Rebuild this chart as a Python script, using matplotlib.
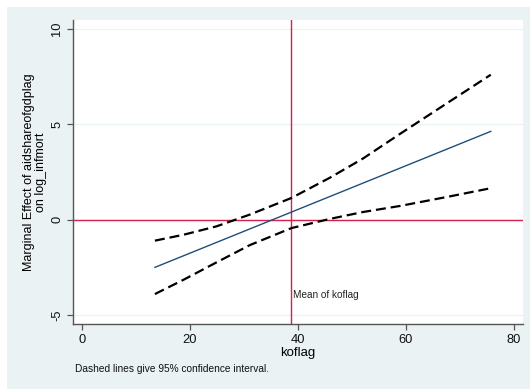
import matplotlib
matplotlib.use("Agg")
import matplotlib.pyplot as plt
from matplotlib.patches import Rectangle

plt.rcParams['font.family'] = ['Liberation Sans', 'DejaVu Sans']

# marginal effect (straight line)
me_x = [13.5, 75.7]
me_y = [-2.5, 4.63]

# confidence bands, read at several points
ci_x = [13.5, 18.8, 24.9, 31.1, 38.8, 45.9, 52.0, 58.9, 68.1, 75.7]
ci_upper = [-1.1, -0.79, -0.35, 0.27, 1.14, 2.2, 3.2, 4.5, 6.2, 7.6]
ci_lower = [-3.9, -3.15, -2.24, -1.33, -0.44, 0.04, 0.4, 0.72, 1.22, 1.65]

koflag_mean = 38.7
xticks = [0, 20, 40, 60, 80]
yticks = [-5, 0, 5, 10]

bg = '#EAF2F3'
red = '#D4204C'
navy = '#1F4E79'

fig = plt.figure(figsize=(5.3, 3.89), dpi=100, facecolor='white')
#graph region background, drawn below the axes
fig.add_artist(Rectangle((7 / 530, 0), 1 - 7 / 530, 1 - 7 / 389,
                         transform=fig.transFigure, facecolor=bg,
                         edgecolor='none', zorder=-5))

ax = fig.add_axes([73 / 530, 65 / 389, 450 / 530, 304 / 389])
ax.set_facecolor('white')

#grid and reference lines
for yt in yticks:
    ax.axhline(yt, color=bg, lw=0.9, zorder=1)
ax.axhline(0, color=red, lw=1.0, zorder=2)
ax.axvline(koflag_mean, color=red, lw=1.0, zorder=2)

ax.plot(me_x, me_y, color=navy, lw=1.0, zorder=3)
ax.plot(ci_x, ci_upper, color='black', lw=1.6, dashes=(4.5, 2.2), zorder=3)
ax.plot(ci_x, ci_lower, color='black', lw=1.6, dashes=(4.5, 2.2), zorder=3)

ax.text(koflag_mean + 0.3, -3.97, 'Mean of koflag', fontsize=7.2,
        ha='left', va='center', color='#222222')

ax.set_xlim(-1.67, 81.67)
ax.set_ylim(-5.47, 10.47)
ax.set_xticks(xticks)
ax.set_yticks(yticks)
ax.set_yticklabels([str(t) for t in yticks], rotation=90, va='center')

for side in ['top', 'right']:
    ax.spines[side].set_visible(False)
for side in ['left', 'bottom']:
    ax.spines[side].set_color('#555555')
    ax.spines[side].set_linewidth(1.0)
ax.tick_params(axis='both', length=4, width=0.9, color='#555555',
               labelsize=9.3, labelcolor='#111111', pad=3)

ax.set_xlabel('koflag', fontsize=9.5, labelpad=1)
ax.set_ylabel('Marginal Effect of aidshareofgdplag\non log_infmort',
              fontsize=9, linespacing=1.05, labelpad=3)

fig.text(75 / 530, 1 - 369 / 389, 'Dashed lines give 95% confidence interval.',
         fontsize=7.3, ha='left', va='center', color='#111111')

fig.savefig('out.png', dpi=100, facecolor=fig.get_facecolor())
